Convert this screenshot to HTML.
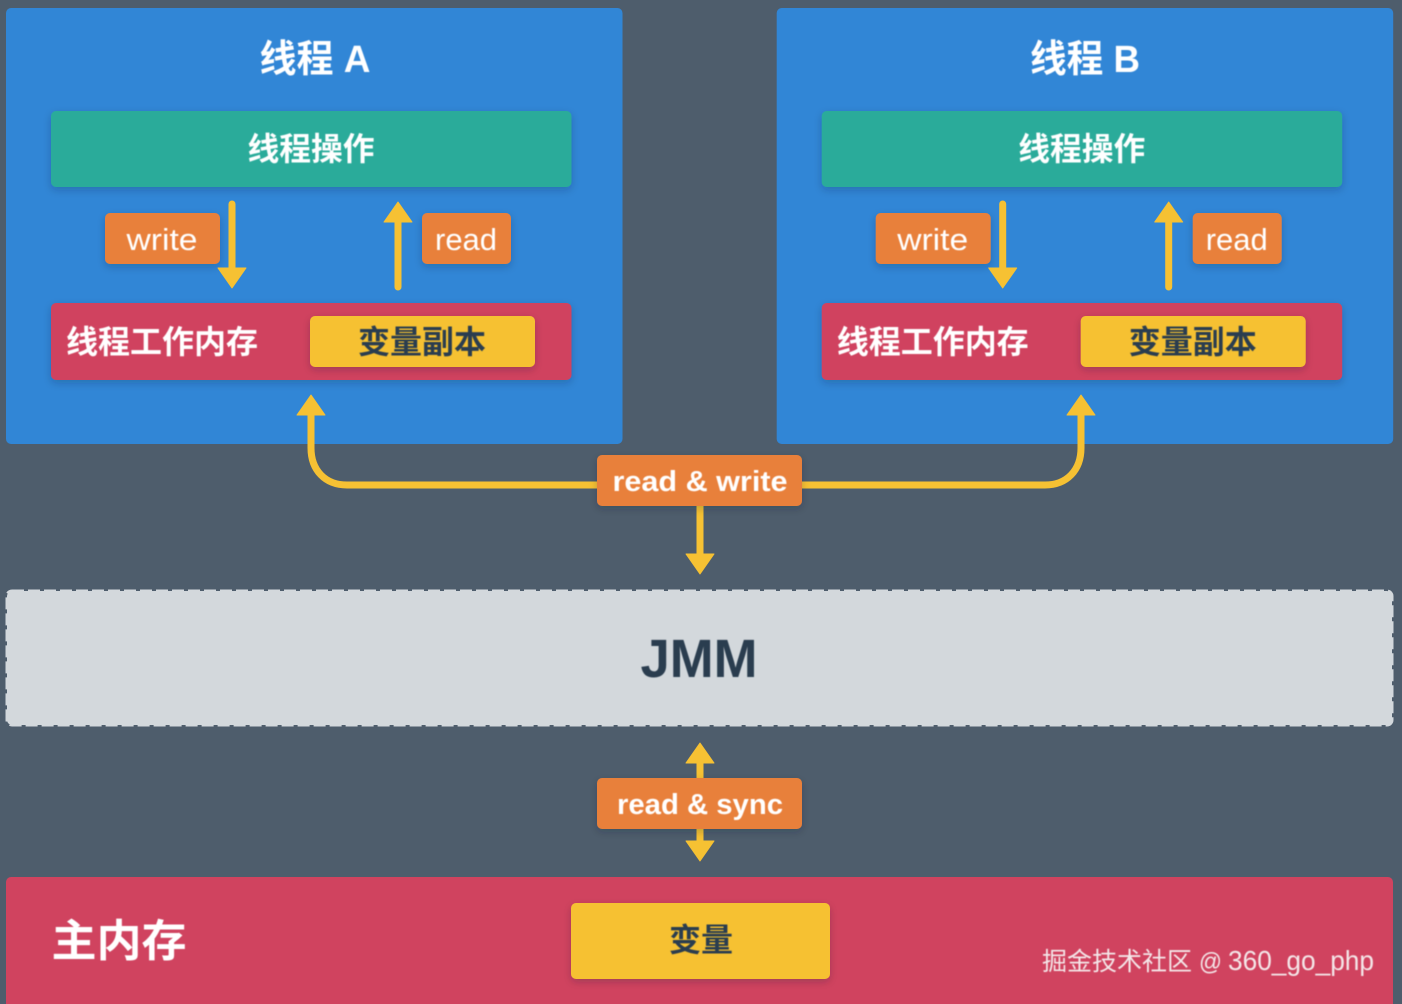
<!DOCTYPE html>
<html lang="zh">
<head>
<meta charset="utf-8">
<title>JMM</title>
<style>
html,body{margin:0;padding:0;width:1402px;height:1004px;overflow:hidden;background:#4e5d6c}
svg{display:block}
text{font-family:"Liberation Sans","Noto Sans CJK SC",sans-serif;text-anchor:middle}
.b{font-weight:700}
.st{text-anchor:start}
</style>
</head>
<body>
<svg xmlns="http://www.w3.org/2000/svg" width="1402" height="1004" viewBox="0 0 1402 1004">
<defs>
<filter id="s" x="-10%" y="-20%" width="120%" height="150%"><feDropShadow dx="0" dy="3" stdDeviation="4" flood-color="#10202f" flood-opacity=".22"/></filter>
<filter id="t" x="-5%" y="-5%" width="110%" height="110%"><feGaussianBlur stdDeviation=".5"/></filter>
<g id="thread">
  <rect x="6" y="8" width="616.5" height="436" rx="5" fill="#3186d6"/>
  <rect x="51" y="111" width="520.5" height="76" rx="5" fill="#29ab9a" filter="url(#s)"/>
  <rect x="105" y="213" width="115" height="51" rx="5" fill="#e8803a" filter="url(#s)"/>
  <rect x="422" y="213" width="89" height="51" rx="5" fill="#e8803a" filter="url(#s)"/>
  <path d="M232 204V270" stroke="#f6c133" stroke-width="7" stroke-linecap="round" fill="none"/>
  <path d="M218 268H246L232 288Z" fill="#f6c133" stroke="#f6c133" stroke-width="1" stroke-linejoin="round"/>
  <path d="M398 220V287" stroke="#f6c133" stroke-width="7" stroke-linecap="round" fill="none"/>
  <path d="M384 222H412L398 202Z" fill="#f6c133" stroke="#f6c133" stroke-width="1" stroke-linejoin="round"/>
  <rect x="51" y="303" width="520.5" height="77" rx="5" fill="#d0435f" filter="url(#s)"/>
  <rect x="310" y="316" width="225" height="51" rx="5" fill="#f6c133" filter="url(#s)"/>
  <g filter="url(#t)">
    <text class="b" x="311" y="147" dy="13" font-size="32" fill="#fff" textLength="127" lengthAdjust="spacingAndGlyphs">线程操作</text>
    <text x="162" y="250" font-size="31" fill="#fff" textLength="71" lengthAdjust="spacingAndGlyphs">write</text>
    <text x="466" y="250" font-size="31" fill="#fff" textLength="62" lengthAdjust="spacingAndGlyphs">read</text>
    <text class="b" x="162" y="353" font-size="32" fill="#fff" textLength="192" lengthAdjust="spacingAndGlyphs">线程工作内存</text>
    <text class="b" x="422" y="353" font-size="32" fill="#2c3e50" textLength="128" lengthAdjust="spacingAndGlyphs">变量副本</text>
  </g>
</g>
</defs>

<use href="#thread"/>
<use href="#thread" x="770.7"/>

<g filter="url(#t)">
  <text class="b" x="315" y="72" font-size="38" fill="#fff" textLength="111" lengthAdjust="spacingAndGlyphs">线程 A</text>
  <text class="b" x="1085" y="72" font-size="38" fill="#fff" textLength="110" lengthAdjust="spacingAndGlyphs">线程 B</text>
</g>

<!-- JMM -->
<rect x="7" y="591" width="1385" height="134" rx="5" fill="#d3d8dc" stroke="#d3d8dc" stroke-width="3" stroke-dasharray="12 4"/>
<rect x="9" y="593" width="1381" height="130" fill="#d3d8dc"/>
<text class="b" x="699" y="677" font-size="54" fill="#2c3e50" textLength="117" lengthAdjust="spacingAndGlyphs" filter="url(#t)">JMM</text>

<!-- read & write connectors -->
<g fill="none" stroke="#f6c133" stroke-width="7">
  <path d="M311 412V448C311 470 325 485 347 485H600"/>
  <path d="M1081 412V448C1081 470 1067 485 1045 485H800"/>
  <path d="M700 504V556"/>
  <path d="M700 760V780"/>
  <path d="M700 828V844"/>
</g>
<g fill="#f6c133" stroke="#f6c133" stroke-width="1" stroke-linejoin="round">
  <path d="M297 415H325L311 395Z"/>
  <path d="M1067 415H1095L1081 395Z"/>
  <path d="M686 554H714L700 574Z"/>
  <path d="M686 763H714L700 743Z"/>
  <path d="M686 841H714L700 861Z"/>
</g>

<rect x="597" y="455" width="205" height="51" rx="5" fill="#e8803a" filter="url(#s)"/>
<text class="b" x="700" y="491" font-size="29" fill="#fff" textLength="175" lengthAdjust="spacingAndGlyphs" filter="url(#t)">read &amp; write</text>

<rect x="597" y="778" width="205" height="51" rx="5" fill="#e8803a" filter="url(#s)"/>
<text class="b" x="700" y="814" font-size="29" fill="#fff" textLength="166" lengthAdjust="spacingAndGlyphs" filter="url(#t)">read &amp; sync</text>

<!-- main memory -->
<rect x="6" y="877" width="1387" height="140" rx="5" fill="#d0435f"/>
<rect x="571" y="903" width="259" height="76" rx="5" fill="#f6c133" filter="url(#s)"/>
<g filter="url(#t)">
  <text class="b" x="119" y="956" font-size="44" fill="#fff" textLength="135" lengthAdjust="spacingAndGlyphs">主内存</text>
  <text class="b" x="701" y="951" font-size="32" fill="#2c3e50" textLength="64" lengthAdjust="spacingAndGlyphs">变量</text>
  <text class="st" x="1042" y="970" font-size="25" fill="#f4e6e8" textLength="150" lengthAdjust="spacingAndGlyphs">掘金技术社区</text>
  <text class="st" x="1199" y="970" font-size="25" fill="#f4e6e8" textLength="23" lengthAdjust="spacingAndGlyphs">@</text>
  <text class="st" x="1228" y="970" font-size="28" fill="#f4e6e8" textLength="146" lengthAdjust="spacingAndGlyphs">360_go_php</text>
</g>
</svg>
</body>
</html>
